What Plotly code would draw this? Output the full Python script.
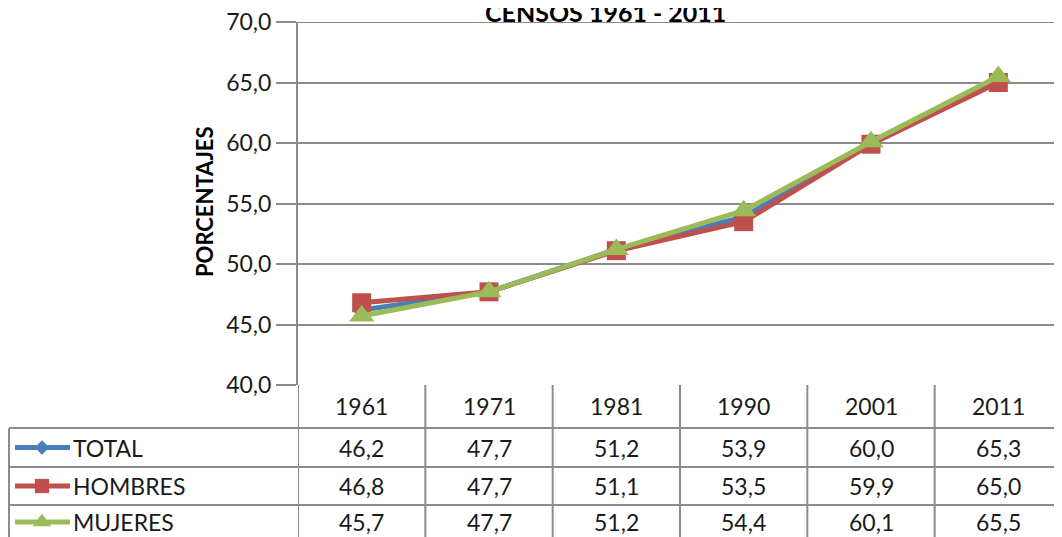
import plotly.graph_objects as go

years = ["1961", "1971", "1981", "1990", "2001", "2011"]
series_names = ["TOTAL", "HOMBRES", "MUJERES"]
total = [46.2, 47.7, 51.2, 53.9, 60.0, 65.3]
hombres = [46.8, 47.7, 51.1, 53.5, 59.9, 65.0]
mujeres = [45.7, 47.7, 51.2, 54.4, 60.1, 65.5]
title_text = "CENSOS 1961 - 2011"
y_title = "PORCENTAJES"
y_min, y_max, y_step = 40, 70, 5

# page body adds an 8px margin; the figure fills the rest of the window
OFF = 8
W, H = 1062 - OFF, 537 - OFF
FONT = "Lato"
colors = ["#4a7ebb", "#c0504d", "#9bbb59"]
symbols = ["diamond", "square", "triangle-up"]
msizes = [15, 19, 22]
values = [total, hombres, mujeres]

plot_left, plot_top, plot_bottom = 298, 22, 385
row_edges = [385, 428, 467, 505, 544]
table_left = 9
grid = "#8c8c8c"

def px(x):
    return (x - OFF) / W

def py(y):
    return 1 - (y - OFF) / H

fig = go.Figure()
for name, vals, c, s, ms in zip(series_names, values, colors, symbols, msizes):
    fig.add_trace(go.Scatter(
        x=years, y=vals, name=name, mode="lines+markers",
        line=dict(color=c, width=5),
        marker=dict(symbol=s, size=ms, color=c),
        xaxis="x", yaxis="y", showlegend=False, cliponaxis=False,
    ))

# legend keys inside table (separate full-page pixel subplot)
for i, (name, c, s, ms) in enumerate(zip(series_names, colors, symbols, msizes)):
    yc = (row_edges[i + 1] + row_edges[i + 2]) / 2
    if i == 2:
        yc = 522
    fig.add_trace(go.Scatter(
        x=[15, 42, 70], y=[yc, yc, yc], mode="lines",
        line=dict(color=c, width=5), xaxis="x2", yaxis="y2",
        showlegend=False, hoverinfo="skip", cliponaxis=False,
    ))
    fig.add_trace(go.Scatter(
        x=[42], y=[yc], mode="markers",
        marker=dict(symbol=s, size=ms * 0.75, color=c), xaxis="x2", yaxis="y2",
        showlegend=False, hoverinfo="skip", cliponaxis=False,
    ))

shapes = []
# top gridline + tick drawn explicitly so it is never dropped at the edge
shapes.append(dict(type="line", xref="paper", yref="y", layer="below",
                   x0=px(plot_left - 20), x1=1, y0=y_max, y1=y_max,
                   line=dict(color=grid, width=2)))
for y in row_edges[1:4]:
    shapes.append(dict(type="line", xref="paper", yref="paper",
                       x0=px(table_left), x1=1, y0=py(y), y1=py(y),
                       line=dict(color=grid, width=2)))
shapes.append(dict(type="line", xref="paper", yref="paper",
                   x0=px(table_left), x1=px(table_left), y0=py(row_edges[1]), y1=0,
                   line=dict(color=grid, width=2)))
for k in range(len(years)):
    xb = k - 0.5
    shapes.append(dict(type="line", xref="x", yref="paper",
                       x0=xb, x1=xb, y0=py(plot_bottom), y1=0,
                       line=dict(color=grid, width=2)))

annotations = []
txt_font = dict(family=FONT, size=23, color="#1a1a1a")
for k, yr in enumerate(years):
    annotations.append(dict(x=k, y=py(406), xref="x", yref="paper",
                            yanchor="middle", text=yr, showarrow=False, font=txt_font))
    for i, vals in enumerate(values):
        yc = (row_edges[i + 1] + row_edges[i + 2]) / 2
        if i == 2:
            yc = 522
        annotations.append(dict(x=k, y=py(yc), xref="x", yref="paper", yanchor="middle",
                                text=f"{vals[k]:.1f}".replace(".", ","), showarrow=False,
                                font=txt_font))
for i, name in enumerate(series_names):
    yc = (row_edges[i + 1] + row_edges[i + 2]) / 2
    if i == 2:
        yc = 522
    annotations.append(dict(x=px(71), y=py(yc), xref="paper", yref="paper", xanchor="left",
                            yanchor="middle", text=name, showarrow=False, font=txt_font))

annotations.append(dict(x=px(605), y=py(12), xref="paper", yref="paper", yanchor="middle",
                        text=f"<b>{title_text}</b>", showarrow=False,
                        font=dict(family=FONT, size=25, color="#000")))
annotations.append(dict(x=px(205), y=py(202), xref="paper", yref="paper",
                        xanchor="center", yanchor="middle",
                        text=f"<b>{y_title}</b>", textangle=-90, showarrow=False,
                        font=dict(family=FONT, size=22, color="#000")))

fig.update_layout(
    width=W, height=H, margin=dict(l=0, r=0, t=0, b=0, pad=0, autoexpand=False),
    paper_bgcolor="white", plot_bgcolor="rgba(0,0,0,0)",
    separators=",.",
    xaxis=dict(type="category", domain=[px(plot_left), 1], range=[-0.5, len(years) - 0.5],
               showticklabels=False, showgrid=False, zeroline=False, fixedrange=True,
               anchor="y"),
    yaxis=dict(domain=[py(plot_bottom), py(plot_top)], range=[y_min, y_max],
               tick0=y_min, dtick=y_step,
               tickformat=".1f", showgrid=True, gridcolor=grid, gridwidth=2,
               ticks="outside", ticklen=20, tickcolor=grid, tickwidth=2,
               showline=True, linecolor=grid, linewidth=2, zeroline=False,
               tickfont=dict(family=FONT, size=23, color="#1a1a1a"), anchor="x",
               automargin=False, ticklabelstandoff=0, ticklabeloverflow="allow"),
    xaxis2=dict(domain=[0, 1], range=[OFF, OFF + W], visible=False, anchor="y2", fixedrange=True),
    yaxis2=dict(domain=[0, 1], range=[OFF + H, OFF], visible=False, anchor="x2", fixedrange=True),
    shapes=shapes, annotations=annotations,
)

fig.write_html("out.html")
